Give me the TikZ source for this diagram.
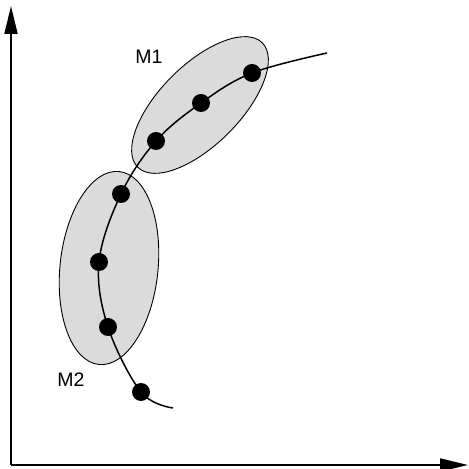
\documentclass[tikz,border=0pt]{standalone}
\usepackage{fontspec}
\setmainfont{Liberation Sans}
\usetikzlibrary{arrows.meta}
\begin{document}
\begin{tikzpicture}[x=1pt,y=1pt,
  axis/.style={line width=2pt,-{Triangle[length=28pt,width=13pt]}},
  grp/.style={draw=black,line width=0.9pt,fill=black!14},
  dot/.style={circle,fill=black,inner sep=0pt,minimum size=18pt},
  lbl/.style={font=\fontsize{19.5}{22}\selectfont,inner sep=0pt},
  curve/.style={line width=1.5pt}]
\useasboundingbox (0,0) rectangle (469,469);
% axes
\coordinate (O) at (11,4);
\coordinate (ytip) at (11,463);
\coordinate (xtip) at (468,4);
\draw[axis] (O) -- (ytip);
\draw[axis] (O) -- (xtip);
% groups
\draw[grp,rotate around={45:(200,364)}] (200,364) ellipse [x radius=88, y radius=40];
\draw[grp,rotate around={-6:(109,201)}] (109,201) ellipse [x radius=49, y radius=97];
% points
\coordinate (s) at (327,416);
\coordinate (e) at (173,61);
\coordinate (c1) at (252,396);
\coordinate (c2) at (201,366);
\coordinate (c3) at (156,328);
\coordinate (c4) at (121,275);
\coordinate (c5) at (99,207);
\coordinate (c6) at (108,142);
\coordinate (c7) at (141,77);
\draw[curve] plot[smooth,tension=0.6] coordinates {(s) (c1) (c2) (c3) (c4) (c5) (c6) (c7) (e)};
\foreach \i in {1,...,7} \node[dot] (p\i) at (c\i) {};
% labels
\node[lbl] (m1) at (149,412.5) {M1};
\node[lbl] (m2) at (71,89) {M2};
\end{tikzpicture}
\end{document}
